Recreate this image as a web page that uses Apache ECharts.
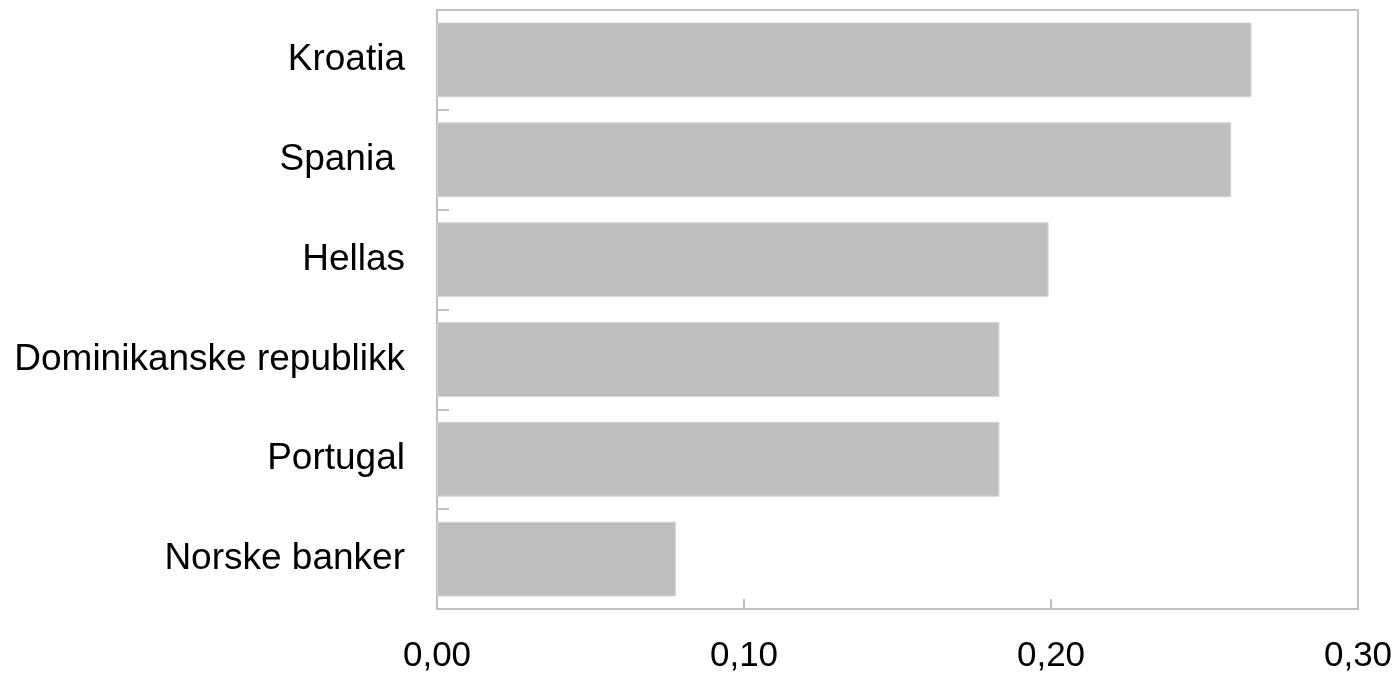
<!DOCTYPE html>
<html>
<head>
<meta charset="utf-8">
<script src="https://cdn.jsdelivr.net/npm/echarts@6/dist/echarts.min.js"></script>
<style>
html,body{margin:0;padding:0;background:#fff;}
#chart{width:1398px;height:674px;}
</style>
</head>
<body>
<div id="chart"></div>
<script>
const categories = ['Kroatia', 'Spania ', 'Hellas', 'Dominikanske republikk', 'Portugal', 'Norske banker'];
const values = [0.2653, 0.2587, 0.1992, 0.1832, 0.1832, 0.0778];
const xTicks = [0, 0.1, 0.2, 0.3];

const chart = echarts.init(document.getElementById('chart'), null, {renderer: 'canvas'});
chart.setOption({
  animation: false,
  backgroundColor: '#ffffff',
  grid: {
    left: 437, right: 40, top: 10, bottom: 64,
    show: true, borderColor: '#c0c0c0', borderWidth: 2, backgroundColor: 'transparent'
  },
  xAxis: {
    type: 'value',
    min: xTicks[0], max: xTicks[xTicks.length - 1], interval: 0.1,
    splitLine: {show: false},
    axisLine: {show: true, lineStyle: {color: '#c0c0c0', width: 2}},
    axisTick: {show: true, inside: true, length: 10, lineStyle: {color: '#c0c0c0', width: 2}},
    axisLabel: {
      color: '#000', fontFamily: 'Liberation Sans, Arial, sans-serif', fontSize: 35, margin: 30,
      formatter: v => v.toFixed(2).replace('.', ',')
    }
  },
  yAxis: {
    type: 'category',
    data: categories,
    inverse: true,
    axisLine: {show: true, lineStyle: {color: '#c0c0c0', width: 2}},
    axisTick: {show: true, inside: true, length: 12, alignWithLabel: false, lineStyle: {color: '#c0c0c0', width: 2}},
    axisLabel: {color: '#000', fontFamily: 'Liberation Sans, Arial, sans-serif', fontSize: 37, margin: 32}
  },
  series: [{
    type: 'bar',
    data: values,
    barCategoryGap: '25%',
    itemStyle: {color: '#bfbfbf', borderColor: '#d4d4d4', borderWidth: 1}
  }]
});
</script>
</body>
</html>
